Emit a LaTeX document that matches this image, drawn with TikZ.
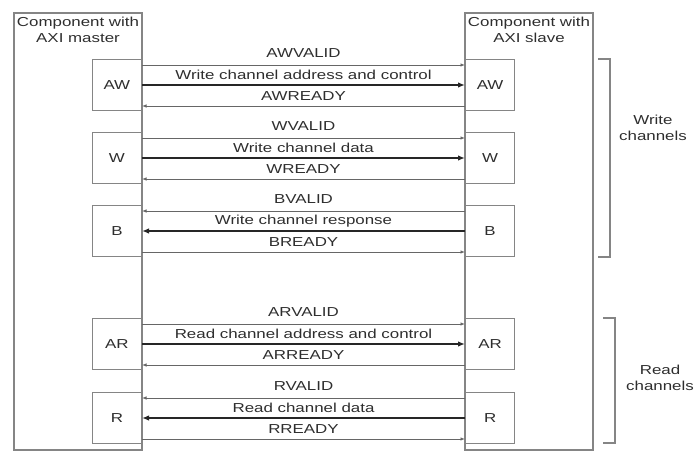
\documentclass[tikz,border=0pt]{standalone}
\usepackage{fontspec}
\setmainfont{Liberation Sans}[FakeStretch=1.3]
\usetikzlibrary{arrows.meta}
\definecolor{boxgray}{HTML}{858585}
\definecolor{linegray}{HTML}{666666}
\definecolor{inkgray}{HTML}{2E2E2E}
\tikzset{
    unit/.style={draw=boxgray, line width=1.3pt},
    port/.style={draw=boxgray, line width=1.2pt, minimum width=49pt,
                 minimum height=51pt, inner sep=0pt, text=inkgray},
    handshake/.style={-{Latex[length=4.5pt, width=3.5pt]}, draw=linegray, line width=0.8pt},
    payload/.style={-{Latex[length=7pt, width=5.5pt]}, draw=black!85, line width=1.6pt},
    label/.style={text=inkgray, inner sep=0pt},
    bracket/.style={draw=boxgray, line width=1.2pt},
}
\tikzset{
    axi panel/.style={font=\fontsize{13}{16}\selectfont, x=1pt, y=-1pt},
}
\begin{document}
\begin{tikzpicture}[axi panel]
    \path[use as bounding box] (0,0) rectangle (694,452);

    % the two components
    \draw[unit] (14,450) -- (14,13) -- (142,13) -- (142,450) -- cycle;
    \draw[unit] (465,450) -- (465,13) -- (593,13) -- (593,450) -- cycle;
    \node[label, align=center] (master) at (78,30) {Component with\\AXI master};
    \node[label, align=center] (slave) at (529,30) {Component with\\AXI slave};

    % one channel = two ports and three wires
    \foreach \ch/\y/\a/\b/\valid/\ready/\info in {
        AW/59/m/s/AWVALID/AWREADY/Write channel address and control,
        W/132/m/s/WVALID/WREADY/Write channel data,
        B/205/s/m/BVALID/BREADY/Write channel response,
        AR/318/m/s/ARVALID/ARREADY/Read channel address and control,
        R/392/s/m/RVALID/RREADY/Read channel data} {
        \node[port, anchor=north east] (\ch-m) at (142,\y) {\ch};
        \node[port, anchor=north west] (\ch-s) at (465,\y) {\ch};
        \foreach \k/\dy in {1/6,2/26,3/47} {
            \coordinate (\ch-m\k) at (142,\y+\dy);
            \coordinate (\ch-s\k) at (465,\y+\dy);
        }
        \draw[handshake] (\ch-\a1) -- (\ch-\b1);
        \draw[payload] (\ch-\a2) -- (\ch-\b2);
        \draw[handshake] (\ch-\b3) -- (\ch-\a3);
        \node[label] (\ch-valid) at (303.5,\y-6) {\valid};
        \node[label] (\ch-info) at (303.5,\y+16) {\info};
        \node[label] (\ch-ready) at (303.5,\y+37) {\ready};
    }

    % channel groups
    \draw[bracket] (598,59) -- (610,59) -- (610,257) -- (598,257);
    \node[label, align=center] (writegroup) at (653,128) {Write\\channels};
    \draw[bracket] (603,318) -- (615,318) -- (615,443) -- (603,443);
    \node[label, align=center] (readgroup) at (660,378) {Read\\channels};
\end{tikzpicture}
\end{document}
